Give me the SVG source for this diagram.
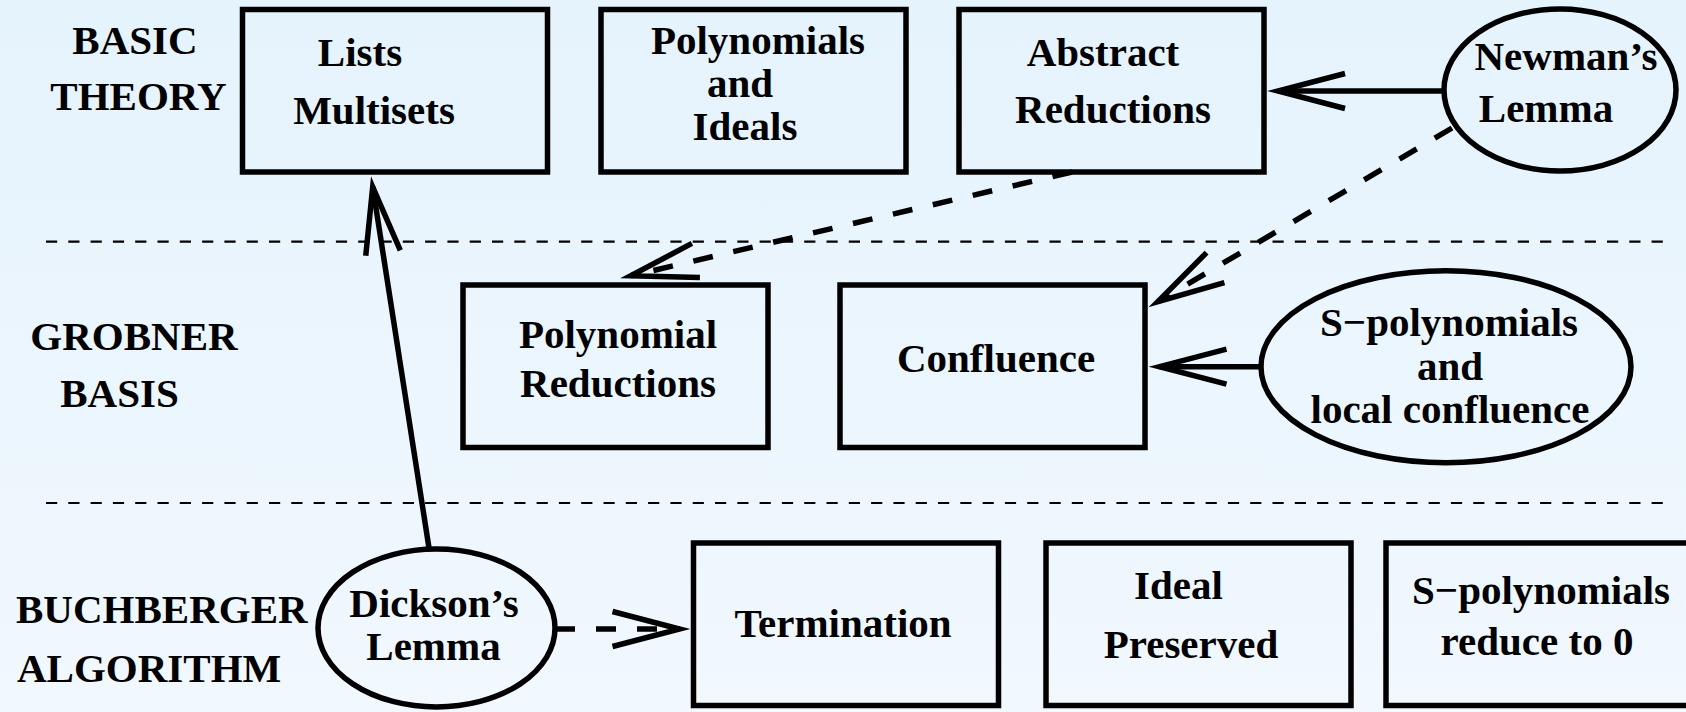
<svg xmlns="http://www.w3.org/2000/svg" width="1686" height="712" viewBox="0 0 1686 712">
  <defs>
    <linearGradient id="bg" x1="0" y1="0" x2="0" y2="1">
      <stop offset="0" stop-color="#e5f3fd"/>
      <stop offset="1" stop-color="#f1f8fe"/>
    </linearGradient>
    <!-- open V arrowhead; the vertex sits on the path end -->
    <marker id="vhead" markerUnits="userSpaceOnUse" orient="auto" overflow="visible"
            markerWidth="1" markerHeight="1" refX="0" refY="0">
      <path d="M-67,-17.5 L0,0 L-67,17.5" fill="none" stroke="#000" stroke-width="5.5"
            stroke-linejoin="miter" stroke-miterlimit="10" stroke-dasharray="none"/>
    </marker>
    <style>
      .box { fill: none; stroke: #000; stroke-width: 5.5; }
      .oval { fill: none; stroke: #000; stroke-width: 5.5; }
      .sep { fill: none; stroke: #000; stroke-width: 2.2; stroke-dasharray: 11.2 11.1; }
      .link { fill: none; stroke: #000; stroke-width: 5.5; marker-end: url(#vhead); }
      .dash { stroke-dasharray: 20 21; }
      text { font-family: "Liberation Serif", "Times New Roman", serif; font-weight: bold;
             font-size: 41px; fill: #000; text-anchor: middle; }
      .start { text-anchor: start; }
    </style>
  </defs>

  <rect x="0" y="0" width="1686" height="712" fill="url(#bg)"/>

  <!-- layer separators -->
  <g id="separators">
    <line class="sep" x1="46" y1="241.7" x2="1667" y2="241.7"/>
    <line class="sep" x1="46" y1="503" x2="1667" y2="503"/>
  </g>

  <!-- layer titles -->
  <g id="layer-titles">
    <text x="135" y="54">BASIC</text>
    <text x="138.5" y="110">THEORY</text>
    <text x="134" y="349.5">GROBNER</text>
    <text x="119.5" y="406.5">BASIS</text>
    <text class="start" x="16" y="623">BUCHBERGER</text>
    <text class="start" x="17" y="682">ALGORITHM</text>
  </g>

  <!-- dependencies -->
  <g id="connectors">
    <path class="link" d="M1444,91 L1278,91"/>
    <path class="link" d="M1261,366.7 L1159.5,366.7"/>
    <path class="link" d="M429,548 L372.7,186.9"/>
    <path class="link dash" d="M1072,172 L630.7,275.8"/>
    <path class="link dash" d="M1452,128 L1157.8,301.7"/>
    <path class="link dash" d="M555,629 L679.5,629"/>
  </g>

  <g id="lists-multisets">
    <rect class="box" x="242.5" y="9.5" width="305" height="162.5"/>
    <text x="360" y="66">Lists</text>
    <text x="374" y="124">Multisets</text>
  </g>

  <g id="polynomials-ideals">
    <rect class="box" x="601" y="9.5" width="305" height="162.5"/>
    <text x="758" y="54">Polynomials</text>
    <text x="740" y="97">and</text>
    <text x="745" y="140">Ideals</text>
  </g>

  <g id="abstract-reductions">
    <rect class="box" x="959" y="9.5" width="305" height="162.5"/>
    <text x="1103" y="66">Abstract</text>
    <text x="1113" y="122.7">Reductions</text>
  </g>

  <g id="newmans-lemma">
    <ellipse class="oval" cx="1560" cy="90" rx="116" ry="81"/>
    <text x="1566" y="70">Newman’s</text>
    <text x="1546" y="122">Lemma</text>
  </g>

  <g id="polynomial-reductions">
    <rect class="box" x="463" y="285" width="305" height="162.5"/>
    <text x="618" y="348">Polynomial</text>
    <text x="618" y="397">Reductions</text>
  </g>

  <g id="confluence">
    <rect class="box" x="840" y="285" width="305" height="162.5"/>
    <text x="996" y="372">Confluence</text>
  </g>

  <g id="spoly-local-confluence">
    <ellipse class="oval" cx="1446" cy="366.7" rx="185" ry="96"/>
    <text x="1449" y="336">S−polynomials</text>
    <text x="1450" y="380">and</text>
    <text x="1450" y="423">local confluence</text>
  </g>

  <g id="dicksons-lemma">
    <ellipse class="oval" cx="436.5" cy="628" rx="118.5" ry="79"/>
    <text x="434" y="617">Dickson’s</text>
    <text x="433.5" y="660">Lemma</text>
  </g>

  <g id="termination">
    <rect class="box" x="693.5" y="543" width="305" height="162.5"/>
    <text x="843" y="637">Termination</text>
  </g>

  <g id="ideal-preserved">
    <rect class="box" x="1046" y="543" width="305" height="162.5"/>
    <text x="1178.5" y="599">Ideal</text>
    <text x="1191" y="658">Preserved</text>
  </g>

  <g id="spoly-reduce-zero">
    <rect class="box" x="1386" y="543" width="305" height="162.5"/>
    <text x="1541" y="603.7">S−polynomials</text>
    <text x="1537" y="655">reduce to 0</text>
  </g>
</svg>
